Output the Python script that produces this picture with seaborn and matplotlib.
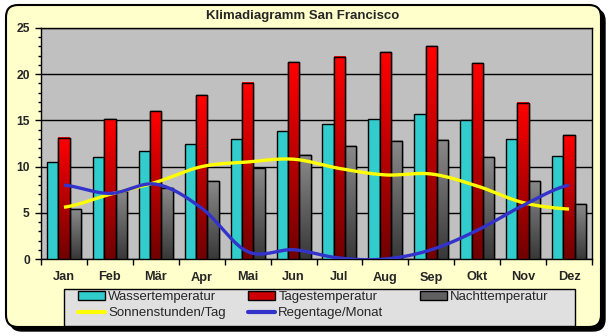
import numpy as np
import pandas as pd
import matplotlib
matplotlib.use('Agg')
import matplotlib.pyplot as plt
import seaborn as sns
from matplotlib.patches import FancyBboxPatch, Patch, Rectangle
from matplotlib.lines import Line2D
from matplotlib.colors import LinearSegmentedColormap

months = ['Jan', 'Feb', 'Mär', 'Apr', 'Mai', 'Jun', 'Jul', 'Aug', 'Sep', 'Okt', 'Nov', 'Dez']
wasser = [10.5, 11.0, 11.7, 12.4, 13.0, 13.9, 14.6, 15.2, 15.7, 15.0, 13.0, 11.2]
tages = [13.1, 15.1, 16.0, 17.7, 19.1, 21.3, 21.9, 22.4, 23.0, 21.2, 16.9, 13.4]
nacht = [5.4, 7.4, 7.7, 8.4, 9.8, 11.3, 12.2, 12.8, 12.9, 11.0, 8.4, 5.9]
sonne = [5.6, 7.0, 8.3, 10.0, 10.5, 10.8, 9.8, 9.1, 9.2, 7.9, 6.1, 5.4]
regen = [8.0, 7.1, 8.1, 5.5, 0.8, 1.0, 0.1, 0.0, 1.0, 3.1, 5.8, 8.0]
series = ['Wassertemperatur', 'Tagestemperatur', 'Nachttemperatur']
line_labels = ['Sonnenstunden/Tag', 'Regentage/Monat']
yticks = [0, 5, 10, 15, 20, 25]
title = 'Klimadiagramm San Francisco'

W, H = 609, 336
sns.set_style('white')
plt.rcParams['font.family'] = ['Liberation Sans', 'DejaVu Sans']

fig = plt.figure(figsize=(W / 100, H / 100), dpi=100)
fig.patch.set_facecolor('white')

# rounded frame with shadow (pixel coords)
shadow = FancyBboxPatch((10, 5), 595, 322, boxstyle='round,pad=0,rounding_size=12',
                        transform=None, fc='black', ec='black', lw=1, zorder=-10)
frame = FancyBboxPatch((6, 9), 595, 322, boxstyle='round,pad=0,rounding_size=12',
                       transform=None, fc='#FFFFCC', ec='black', lw=1.5, zorder=-9)
fig.add_artist(shadow)
fig.add_artist(frame)

ax = fig.add_axes([41 / W, 77 / H, 551 / W, 231 / H])
ax.set_facecolor('#C0C0C0')

df = pd.DataFrame({
    'Monat': months * 3,
    'Wert': wasser + tages + nacht,
    'Serie': [s for s in series for _ in months],
})
cyan = '#33CCCC'
sns.barplot(data=df, x='Monat', y='Wert', hue='Serie', hue_order=series,
            palette=[cyan, '#FF0000', '#808080'], width=0.74, saturation=1,
            edgecolor='black', linewidth=1, ax=ax, legend=False, zorder=3)

# gradients for red and gray bars
grads = {1: ('#FF0000', '#700000'), 2: ('#8A8A8A', '#383838')}
gimg = np.linspace(0, 1, 256).reshape(-1, 1)
for ci, (top, bot) in grads.items():
    cmap = LinearSegmentedColormap.from_list('g%d' % ci, [bot, top])
    for p in ax.containers[ci]:
        x0, y0 = p.get_x(), p.get_y()
        w, h = p.get_width(), p.get_height()
        ax.imshow(gimg, extent=[x0, x0 + w, y0, y0 + h], origin='lower',
                  aspect='auto', cmap=cmap, zorder=3.1, interpolation='bilinear')
        ax.add_patch(Rectangle((x0, y0), w, h, fill=False, ec='black', lw=1, zorder=3.2))


def smooth(vals, n=20):
    v = np.asarray(vals, float)
    xs, ys = [], []
    m = len(v)
    for i in range(m - 1):
        p0 = v[i - 1] if i > 0 else v[i]
        p1, p2 = v[i], v[i + 1]
        p3 = v[i + 2] if i + 2 < m else v[i + 1]
        t = np.linspace(0, 1, n, endpoint=False)
        yy = 0.5 * ((2 * p1) + (-p0 + p2) * t + (2 * p0 - 5 * p1 + 4 * p2 - p3) * t ** 2
                    + (-p0 + 3 * p1 - 3 * p2 + p3) * t ** 3)
        xs.extend(i + t)
        ys.extend(yy)
    xs.append(m - 1)
    ys.append(v[-1])
    return np.array(xs), np.array(ys)


sx, sy = smooth(sonne)
rx, ry = smooth(regen)
ax.plot(sx, sy, color='#FFFF00', lw=2.4, zorder=5, solid_capstyle='butt')
ax.plot(rx, ry, color='#3333CC', lw=2.4, zorder=5, solid_capstyle='butt')

ax.set_xlim(-0.5, 11.5)
ax.set_ylim(0, 25)
ax.set_yticks(yticks)
ax.set_yticks(np.arange(0, 26, 1), minor=True)
ax.set_xticks(np.arange(-0.5, 12, 1), minor=True)
ax.yaxis.grid(True, which='major', color='black', lw=1)
ax.set_axisbelow(True)
for s in ax.spines.values():
    s.set_color('black')
    s.set_linewidth(1)
    s.set_visible(True)
ax.tick_params(axis='y', which='major', direction='out', length=4, width=1, color='black',
               left=True, pad=4, labelsize=8.7)
ax.tick_params(axis='y', which='minor', direction='out', length=2.5, width=1, color='black', left=True)
ax.tick_params(axis='x', which='major', length=0, pad=9, labelsize=9.2)
ax.tick_params(axis='x', which='minor', direction='out', length=4, width=1, color='black', bottom=True)
for lab in ax.get_xticklabels() + ax.get_yticklabels():
    lab.set_fontweight('bold')
ax.set_xlabel('')
ax.set_ylabel('')

fig.text(0.5 - 2 / W, 1 - 16 / H, title, ha='center', va='center',
         fontsize=9.5, fontweight='bold')

# legend box
fig.add_artist(Rectangle((64, H - 326), 511, 37, transform=None, fc='#E0E0E0',
                         ec='black', lw=1, zorder=1))
h_wasser = Patch(fc=cyan, ec='black', lw=1)
h_tages = Patch(fc='#CC0000', ec='black', lw=1)
h_nacht = Patch(fc='#606060', ec='black', lw=1)
h_sonne = Line2D([], [], color='#FFFF00', lw=3)
h_regen = Line2D([], [], color='#3333CC', lw=3)
cols = [([h_wasser, h_sonne], [series[0], line_labels[0]], 78),
        ([h_tages, h_regen], [series[1], line_labels[1]], 248),
        ([h_nacht], [series[2]], 420)]
for hs, ls, xpx in cols:
    leg = fig.legend(hs, ls, loc='upper left', bbox_to_anchor=(xpx / W, 1 - 291 / H),
                     ncol=1, frameon=False, fontsize=9.5, borderpad=0, borderaxespad=0,
                     handlelength=2.05, handletextpad=0.25, labelspacing=0.3,
                     handleheight=0.65)
    leg.set_zorder(2)

fig.savefig('out.png', dpi=100)
